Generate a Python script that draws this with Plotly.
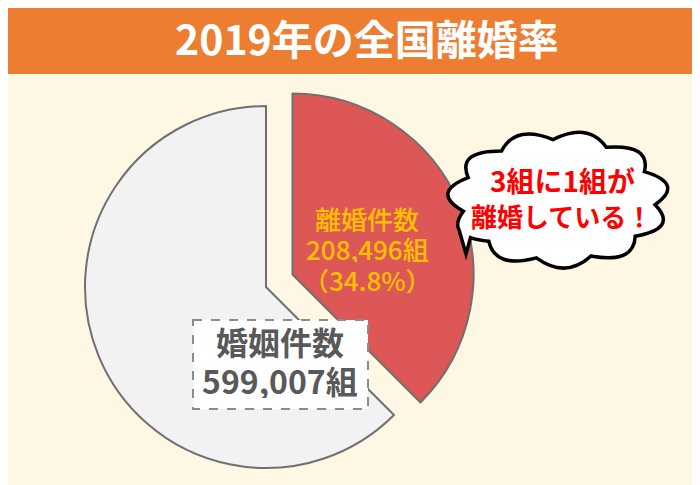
import numpy as np
import plotly.graph_objects as go

# values shown on the chart
title = "2019年の全国離婚率"
labels = ["離婚件数", "婚姻件数"]
counts = [208496, 599007]
unit = "組"
# slice sizes as they are drawn in the picture (share of the circle, %)
slice_share = [37.5, 62.5]
bubble_lines = ["3組に1組が", "離婚している！"]

# page is 700x485 but the body keeps its 8px margin, so the figure is 692x477
# and the axes below are in page pixels
W, H = 700, 485
OFF = 8
FW, FH = W - OFF, H - OFF
FONT = "Noto Sans CJK JP"
BG = "#FEF7E4"
ORANGE = "#ED7D31"
RED = "#DE5757"
GRAY = "#F2F2F2"
EDGE = "#707070"
CLEAR = "rgba(0,0,0,0)"


def dom(cx, cy, r):
    # pie domain (paper units) for a circle of radius r centred at page pixel cx, cy
    return dict(x=[(cx - r - OFF) / FW, (cx + r - OFF) / FW],
                y=[1 - (cy + r - OFF) / FH, 1 - (cy - r - OFF) / FH])


def bez(p0, c, p1, t):
    return (1 - t) ** 2 * p0 + 2 * (1 - t) * t * c + t ** 2 * p1


def cloud_path(cx, cy, rx, ry, n=10, k=1.35, offset=0.0, tail=None):
    ang = np.radians(offset + 360 / n * np.arange(n + 1))
    pts = np.c_[cx + rx * np.cos(ang), cy + ry * np.sin(ang)]
    mid = np.radians(offset + 360 / n * (np.arange(n) + 0.5))
    ctr = np.c_[cx + k * rx * np.cos(mid), cy + k * ry * np.sin(mid)]
    f = lambda p: f"{p[0]:.1f},{p[1]:.1f}"
    d = "M" + f(pts[0])
    for i in range(n):
        p0, c, p1 = pts[i], ctr[i], pts[i + 1]
        if tail is not None and i == tail[0]:
            t1, t2, tip = tail[1], tail[2], np.array(tail[3])
            c1 = p0 + t1 * (c - p0)
            b1 = bez(p0, c, p1, t1)
            b2 = bez(p0, c, p1, t2)
            c2 = c + t2 * (p1 - c)
            d += " Q" + f(c1) + " " + f(b1) + " L" + f(tip) + " L" + f(b2)
            d += " Q" + f(c2) + " " + f(p1)
        else:
            d += " Q" + f(c) + " " + f(p1)
    return d + " Z"


fig = go.Figure()
# empty trace so the pixel-coordinate axes exist for the shapes
fig.add_trace(go.Scatter(x=[None], y=[None], showlegend=False, hoverinfo="skip"))

# main circle, only the marriage slice shown
fig.add_trace(go.Pie(
    values=slice_share, labels=labels, sort=False, direction="clockwise", rotation=0,
    domain=dom(266, 287, 181), textinfo="none", hoverinfo="skip", showlegend=False,
    marker=dict(colors=[CLEAR, GRAY], line=dict(color=[CLEAR, EDGE], width=[0, 2]))))
# divorce slice, pulled out
fig.add_trace(go.Pie(
    values=slice_share, labels=labels, sort=False, direction="clockwise", rotation=0,
    domain=dom(292.5, 274.5, 181), textinfo="none", hoverinfo="skip", showlegend=False,
    marker=dict(colors=[RED, CLEAR], line=dict(color=[EDGE, CLEAR], width=[2, 0]))))

shapes = [
    dict(type="rect", x0=0, x1=W, y0=0, y1=2.5, fillcolor="#C9C9C9", line_width=0, layer="below"),
    dict(type="rect", x0=0, x1=W, y0=2.5, y1=74, fillcolor=ORANGE, line_width=0, layer="below"),
    # dashed label box for marriages
    dict(type="rect", x0=193, x1=368, y0=320, y1=409, fillcolor="white",
         line=dict(color="#8C8C8C", width=2, dash="dash"), layer="above"),
    # speech bubble
    dict(type="path", path=cloud_path(558.5, 199.5, 97, 60, n=11, k=1.33, offset=5,
                                      tail=(4, 0.25, 0.55, (466, 254))),
         fillcolor="white", line=dict(color="black", width=3.5), layer="above"),
]

pct = counts[0] / counts[1] * 100
red_font = dict(size=26, color="#FFC000", family=FONT, weight=500)
gray_font = dict(size=32, color="#595959", family=FONT)
annotations = [
    dict(x=367, y=37, text="<b>" + title + "</b>", height=46,
         font=dict(size=41, color="white", family=FONT)),
    dict(x=367, y=218, text=labels[0], height=28, font=red_font),
    dict(x=367, y=248, text=f"{counts[0]:,}{unit}", height=28, font=red_font),
    dict(x=367, y=279, text=f"（{pct:.1f}%）", height=28, font=red_font),
    dict(x=280, y=341, text="<b>" + labels[1] + "</b>", height=36, font=gray_font),
    dict(x=280, y=380, text="<b>" + f"{counts[1]:,}{unit}" + "</b>", height=36, font=gray_font),
    dict(x=562, y=180, text="<b>" + bubble_lines[0] + "</b>", height=32,
         font=dict(size=28, color="#FF0000", family=FONT)),
    dict(x=561, y=215, text="<b>" + bubble_lines[1] + "</b>", height=30,
         font=dict(size=26, color="#FF0000", family=FONT)),
]
for a in annotations:
    a.update(xref="x", yref="y", showarrow=False, xanchor="center", yanchor="middle")

fig.update_layout(
    width=FW, height=FH, margin=dict(l=0, r=0, t=0, b=0),
    paper_bgcolor=BG, plot_bgcolor=BG,
    xaxis=dict(range=[OFF, W], visible=False, fixedrange=True),
    yaxis=dict(range=[H, OFF], visible=False, fixedrange=True),
    shapes=shapes, annotations=annotations, showlegend=False,
)
fig.write_html("out.html")
